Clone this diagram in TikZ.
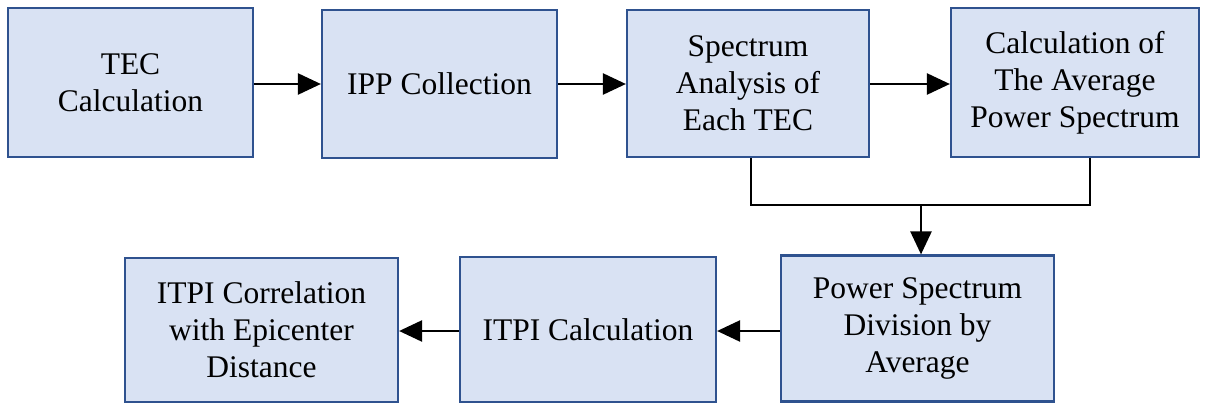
\documentclass[tikz,border=0pt]{standalone}
\usepackage{fontspec}
\setmainfont{Liberation Serif}
\usetikzlibrary{arrows.meta}
\definecolor{boxfill}{HTML}{D9E2F3}
\definecolor{boxline}{HTML}{2F528F}
\begin{document}
\begin{tikzpicture}[x=1pt,y=-1pt,
  box/.style={draw=boxline, fill=boxfill, line width=2.2pt, align=center, inner sep=0pt,
    font=\fontsize{31.5}{37}\selectfont},
  conn/.style={line width=2.5pt, draw=black},
  arr/.style={conn, -{Triangle[length=23pt,width=21pt]}}]
\useasboundingbox (0,0) rectangle (1207,404);
\node[box, minimum width=245pt, minimum height=149pt] (tec) at (130.5,82.5) {TEC\\Calculation};
\node[box, minimum width=235pt, minimum height=148pt] (ipp) at (439.5,84) {IPP Collection};
\node[box, minimum width=242pt, minimum height=147pt] (spa) at (748,83.5) {Spectrum\\Analysis of\\Each TEC};
\node[box, minimum width=248pt, minimum height=149pt] (avg) at (1075,82.5) {Calculation of\\The Average\\Power Spectrum};
\node[box, minimum width=273pt, minimum height=146pt] (psd) at (917.5,328.5) {Power Spectrum\\Division by\\Average};
\node[box, minimum width=256pt, minimum height=145pt] (itc) at (588,329.5) {ITPI Calculation};
\node[box, minimum width=273pt, minimum height=144pt] (cor) at (261.5,330) {ITPI Correlation\\with Epicenter\\Distance};
\coordinate (j) at (921,205);
\draw[arr] (tec.east |- 0,84) -- (ipp.west |- 0,84);
\draw[arr] (ipp.east |- 0,84) -- (spa.west |- 0,84);
\draw[arr] (spa.east |- 0,84) -- (avg.west |- 0,84);
\draw[conn] (spa.south -| 751,0) |- (j) -| (avg.south -| 1090,0);
\draw[arr] (j) -- (psd.north -| j);
\draw[arr] (psd.west |- 0,331) -- (itc.east |- 0,331);
\draw[arr] (itc.west |- 0,331) -- (cor.east |- 0,331);
\end{tikzpicture}
\end{document}
